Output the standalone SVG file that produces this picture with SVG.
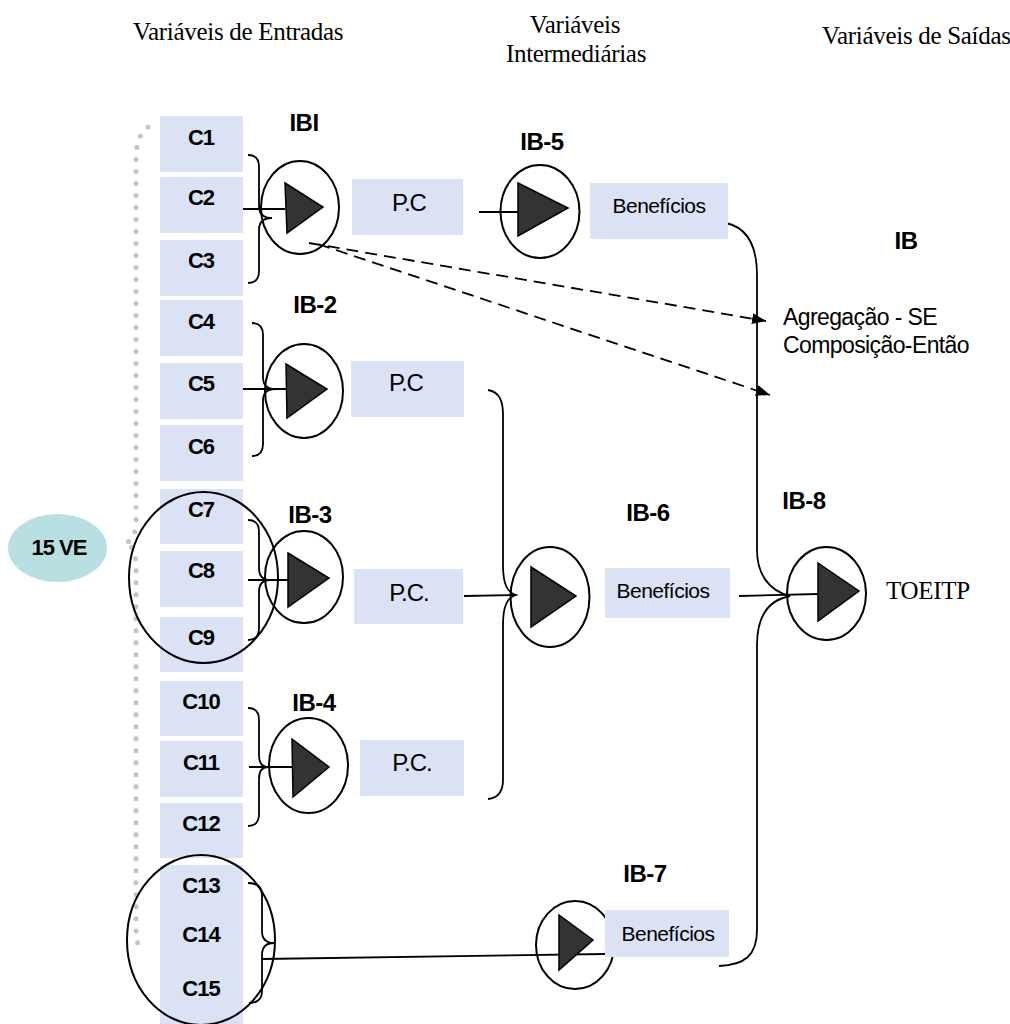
<svg xmlns="http://www.w3.org/2000/svg" width="1010" height="1024" viewBox="0 0 1010 1024">
<style>
.hd{font-family:"Liberation Serif","Times New Roman",serif;font-size:25px;letter-spacing:-0.3px;fill:#000}
.c{font-family:"Liberation Sans",Arial,sans-serif;font-weight:bold;font-size:22px;letter-spacing:-1px;text-anchor:middle;fill:#000}
.ib{font-family:"Liberation Sans",Arial,sans-serif;font-weight:bold;font-size:24px;letter-spacing:-0.5px;text-anchor:middle;fill:#000}
.pc{font-family:"Liberation Sans",Arial,sans-serif;font-size:24px;letter-spacing:-1px;text-anchor:middle;fill:#000}
.ben{font-family:"Liberation Sans",Arial,sans-serif;font-size:21px;letter-spacing:-0.5px;text-anchor:middle;fill:#000}
.ag{font-family:"Liberation Sans",Arial,sans-serif;font-size:23px;letter-spacing:-0.6px;fill:#000}
.box{fill:#dae2f4}
.op{fill:none;stroke:#000;stroke-width:2}
.tri{fill:#333;stroke:#000;stroke-width:1.5}
.ln{fill:none;stroke:#000;stroke-width:1.8}
.dash{fill:none;stroke:#000;stroke-width:1.8;stroke-dasharray:12 7}
.grp{fill:none;stroke:#000;stroke-width:2}
.dots{fill:none;stroke:#c4c4c4;stroke-width:5;stroke-linecap:round;stroke-dasharray:0 12}
</style>
<defs>
<marker id="arr" viewBox="0 0 14 11" refX="14" refY="5.5" markerWidth="14" markerHeight="11" markerUnits="userSpaceOnUse" orient="auto">
<path d="M0,0 L14,5.5 L0,11 z" fill="#000"/>
</marker>
</defs>
<rect width="1010" height="1024" fill="#fff"/>

<g id="headings">
<text class="hd" x="133" y="40">Variáveis de Entradas</text>
<text class="hd" x="575" y="33" text-anchor="middle">Variáveis</text>
<text class="hd" x="576" y="62" text-anchor="middle">Intermediárias</text>
<text class="hd" x="822" y="44">Variáveis de Saídas</text>
</g>

<g id="connectors">
<path class="dots" d="M148,127 Q136,135 136,160 L136,520 Q136,540 125,543 Q136,546 136,566 L136,930 Q136,945 142,950"/>
<path class="ln" d="M248,155 Q259,155 259,167 L259,206 Q259,218 272,218 Q259,218 259,230 L259,271 Q259,283 248,283"/>
<path class="ln" d="M243,209 L285,209"/>
<path class="ln" d="M252,323 Q263,323 263,335 L263,377 Q263,389 275,389 Q263,389 263,401 L263,444 Q263,456 252,456"/>
<path class="ln" d="M243,389 L286,389"/>
<path class="ln" d="M248,520 Q259,520 259,532 L259,568 Q259,580 270,580 Q259,580 259,592 L259,628 Q259,640 248,640"/>
<path class="ln" d="M248,580 L288,580"/>
<path class="ln" d="M248,708 Q259,708 259,720 L259,755 Q259,767 268,767 Q259,767 259,779 L259,814 Q259,826 248,826"/>
<path class="ln" d="M249,767 L292,767"/>
<path class="ln" d="M248,883 Q262,883 262,895 L262,931 Q262,943 274,943 Q262,943 262,955 L262,991 Q262,1003 249,1003"/>
<path class="ln" d="M262,959 L605,954"/>
<path class="ln" d="M479,212 L518,212"/>
<path class="ln" d="M488,390 C499,392 503,400 503,415 L503,565 C503,584 507,592 516,595 C507,598 503,606 503,625 L503,780 C503,792 498,798 488,799"/>
<path class="ln" d="M464,596 L516,595"/>
<path class="ln" d="M719,222 C745,224 757,242 757,275 L757,550 C757,574 769,591 790,596 C769,600 757,616 757,645 L757,930 C757,955 745,965 719,966"/>
<path class="ln" d="M739,596 L818,594"/>
<path class="dash" d="M309,243 L766,321" marker-end="url(#arr)"/>
<path class="dash" d="M318,244 L770,395" marker-end="url(#arr)"/>
</g>

<g id="ve15">
<ellipse cx="57.5" cy="548" rx="49.5" ry="34" fill="#b8dfe2"/>
<text class="c" x="59" y="555" font-size="20">15 VE</text>
</g>

<g id="C1"><rect class="box" x="160" y="116" width="83" height="56"/><text class="c" x="201" y="145">C1</text></g>
<g id="C2"><rect class="box" x="160" y="177" width="83" height="56"/><text class="c" x="201" y="205">C2</text></g>
<g id="C3"><rect class="box" x="160" y="240" width="83" height="56"/><text class="c" x="201" y="268">C3</text></g>
<g id="C4"><rect class="box" x="160" y="300" width="83" height="56"/><text class="c" x="201" y="329">C4</text></g>
<g id="C5"><rect class="box" x="160" y="363" width="83" height="56"/><text class="c" x="201" y="391">C5</text></g>
<g id="C6"><rect class="box" x="160" y="425" width="83" height="56"/><text class="c" x="201" y="454">C6</text></g>
<g id="C7"><rect class="box" x="160" y="489" width="83" height="55"/><text class="c" x="201" y="517">C7</text></g>
<g id="C8"><rect class="box" x="160" y="551" width="83" height="56"/><text class="c" x="201" y="578">C8</text></g>
<g id="C9"><rect class="box" x="160" y="617" width="83" height="55"/><text class="c" x="201" y="645">C9</text></g>
<g id="C10"><rect class="box" x="160" y="681" width="83" height="55"/><text class="c" x="201" y="709">C10</text></g>
<g id="C11"><rect class="box" x="160" y="741" width="83" height="56"/><text class="c" x="201" y="770">C11</text></g>
<g id="C12"><rect class="box" x="160" y="803" width="83" height="55"/><text class="c" x="201" y="831">C12</text></g>
<g id="C13"><rect class="box" x="160" y="865" width="83" height="54"/><text class="c" x="201" y="893">C13</text></g>
<g id="C14"><rect class="box" x="160" y="918" width="83" height="53"/><text class="c" x="201" y="942">C14</text></g>
<g id="C15"><rect class="box" x="160" y="970" width="83" height="54"/><text class="c" x="201" y="996">C15</text></g>

<g id="group-C7-C9"><ellipse class="grp" cx="203.5" cy="577.5" rx="74.5" ry="85.5"/></g>
<g id="group-C13-C15"><ellipse class="grp" cx="201" cy="940" rx="74" ry="85"/></g>

<g id="IBI">
<text class="ib" x="304" y="131">IBI</text>
<ellipse class="op" cx="300" cy="207.5" rx="39" ry="46.5"/>
<polygon class="tri" points="285,183 323,207 287,233"/>
</g>
<g id="IB-2">
<text class="ib" x="315" y="313">IB-2</text>
<ellipse class="op" cx="304" cy="391" rx="39" ry="47"/>
<polygon class="tri" points="286,364 327,389 287,418"/>
</g>
<g id="IB-3">
<text class="ib" x="310" y="523">IB-3</text>
<ellipse class="op" cx="304" cy="577" rx="39" ry="46"/>
<polygon class="tri" points="288,553 329,578 288,607"/>
</g>
<g id="IB-4">
<text class="ib" x="314" y="711">IB-4</text>
<ellipse class="op" cx="308.5" cy="765.5" rx="39.5" ry="47.5"/>
<polygon class="tri" points="292,739 329,767 293,797"/>
</g>

<g id="PC-1"><rect class="box" x="352" y="179" width="111" height="56"/><text class="pc" x="409" y="211">P.C</text></g>
<g id="PC-2"><rect class="box" x="351" y="361" width="113" height="56"/><text class="pc" x="406" y="391">P.C</text></g>
<g id="PC-3"><rect class="box" x="354" y="569" width="109" height="55"/><text class="pc" x="409" y="601">P.C.</text></g>
<g id="PC-4"><rect class="box" x="360" y="740" width="104" height="56"/><text class="pc" x="412" y="771">P.C.</text></g>

<g id="IB-5">
<text class="ib" x="542" y="150">IB-5</text>
<ellipse class="op" cx="540" cy="211.5" rx="39.5" ry="46.5"/>
<polygon class="tri" points="518,183 568,208 518,236"/>
</g>
<g id="Ben-5"><rect class="box" x="590" y="183" width="138" height="56"/><text class="ben" x="659" y="213">Benefícios</text></g>

<g id="IB-6">
<text class="ib" x="648" y="521">IB-6</text>
<ellipse class="op" cx="550" cy="597" rx="39.5" ry="50"/>
<polygon class="tri" points="531,567 576,596 531,627"/>
</g>
<g id="Ben-6"><rect class="box" x="605" y="568" width="125" height="50"/><text class="ben" x="663" y="598">Benefícios</text></g>

<g id="IB-7">
<text class="ib" x="645" y="882">IB-7</text>
<ellipse class="op" cx="575" cy="945" rx="39" ry="44"/>
<polygon class="tri" points="559,915 593,940 559,970"/>
</g>
<g id="Ben-7"><rect class="box" x="605" y="910" width="124" height="47"/><text class="ben" x="668" y="941">Benefícios</text></g>

<g id="IB-8">
<text class="ib" x="804" y="509">IB-8</text>
<ellipse class="op" cx="826.5" cy="593.5" rx="39.5" ry="46.5"/>
<polygon class="tri" points="818,563 859,591 818,621"/>
</g>
<g id="output"><text class="hd" x="886" y="599" font-size="27">TOEITP</text></g>

<g id="IB-title"><text class="ib" x="906" y="249" font-size="34">IB</text></g>
<g id="agg-note">
<text class="ag" x="783" y="325">Agregação - SE</text>
<text class="ag" x="783" y="353">Composição-Então</text>
</g>
</svg>
